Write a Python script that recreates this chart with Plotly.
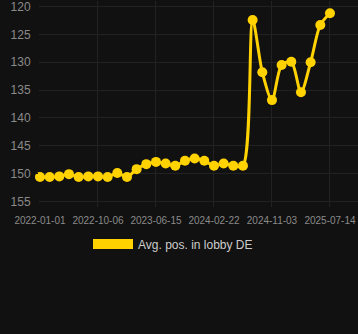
import plotly.graph_objects as go

dates = ["2022-01-01", "2022-02-16", "2022-04-03", "2022-05-19", "2022-07-05", "2022-08-20",
         "2022-10-06", "2022-11-17", "2022-12-29", "2023-02-09", "2023-03-23", "2023-05-04",
         "2023-06-15", "2023-07-27", "2023-09-07", "2023-10-19", "2023-11-30", "2024-01-11",
         "2024-02-22", "2024-04-04", "2024-05-17", "2024-06-28", "2024-08-09", "2024-09-21",
         "2024-11-03", "2024-12-15", "2025-01-26", "2025-03-09", "2025-04-20", "2025-06-02",
         "2025-07-14"]
avg_pos = [150.6, 150.6, 150.5, 150.1, 150.6, 150.5, 150.5, 150.6, 149.9, 150.6, 149.2, 148.3,
           147.9, 148.2, 148.6, 147.7, 147.3, 147.7, 148.6, 148.2, 148.6, 148.6, 122.4, 131.8,
           136.8, 130.5, 129.9, 135.4, 130.0, 123.3, 121.2]
x_ticks = ["2022-01-01", "2022-10-06", "2023-06-15", "2024-02-22", "2024-11-03", "2025-07-14"]
y_ticks = [120, 125, 130, 135, 140, 145, 150, 155]
series_name = "Avg. pos. in lobby DE"

GOLD = "#FFD200"
BG = "#111111"
GRID = "#222222"
TICK = "#8a8a8a"

fig = go.Figure()
fig.add_trace(go.Scatter(
    x=dates, y=avg_pos, mode="lines+markers", name=series_name,
    line=dict(color=GOLD, width=3, shape="spline", smoothing=0.8),
    marker=dict(color=GOLD, size=10),
    showlegend=False, cliponaxis=False,
))
# legend entry (rectangle swatch)
fig.add_trace(go.Scatter(
    x=[None], y=[None], mode="lines", name=series_name,
    line=dict(color=GOLD, width=12), showlegend=True,
))

fig.update_layout(
    width=358, height=334,
    margin=dict(l=39, r=0, t=1, b=127),
    paper_bgcolor=BG, plot_bgcolor=BG,
    font=dict(family="Arial, Liberation Sans, sans-serif", color=TICK),
    legend=dict(orientation="h", x=88 / 358, xref="container", xanchor="left",
                y=1 - 244 / 334, yref="container",
                yanchor="middle", font=dict(size=12, color="#cccccc"), itemwidth=40,
                bgcolor="rgba(0,0,0,0)"),
    xaxis=dict(
        type="category", categoryorder="array", categoryarray=dates,
        range=[-0.1, 32.9],
        tickvals=x_ticks, ticktext=x_ticks, tickangle=0, automargin=False,
        showgrid=True, gridcolor=GRID, gridwidth=1, zeroline=False, showline=False,
        tickfont=dict(size=10, color=TICK), ticks="outside", ticklen=4, tickcolor=BG,
    ),
    yaxis=dict(
        range=[156, 119], tickvals=y_ticks, automargin=False, ticklabeloverflow="allow",
        showgrid=True, gridcolor=GRID, gridwidth=1, zeroline=False, showline=False,
        tickfont=dict(size=12, color=TICK), ticks="outside", ticklen=5, tickcolor=BG,
    ),
)

fig.write_html("out.html")
